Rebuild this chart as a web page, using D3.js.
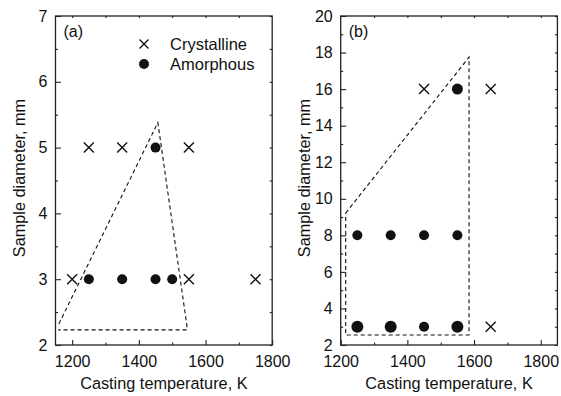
<!DOCTYPE html>
<html>
<head>
<meta charset="utf-8">
<script src="https://cdn.jsdelivr.net/npm/d3@7"></script>
<style>
  body { margin: 0; background: #fff; }
  svg text { font-family: "Liberation Sans", Arial, sans-serif; fill: #111; }
</style>
</head>
<body>
<script>
// panel (a) data
const crystA = [[1250, 5], [1350, 5], [1550, 5], [1200, 3], [1550, 3], [1750, 3]];
const amorphA = [[1450, 5], [1250, 3], [1350, 3], [1450, 3], [1500, 3]];
const regionA = [[1160, 2.32], [1457, 5.38], [1544, 2.3], [1544, 2.23], [1158, 2.23]];

// panel (b) data
const crystB = [[1450, 16], [1650, 16], [1650, 3]];
const amorphB = [[1550, 16], [1250, 8], [1350, 8], [1450, 8], [1550, 8],
                 [1250, 3], [1350, 3], [1450, 3], [1550, 3]];
const amorphBSize = [5.5, 5, 5, 5, 5, 6, 6, 5, 6];
const regionB = [[1215, 9.22], [1585, 17.75], [1585, 2.55], [1215, 2.55], [1215, 9.22]];

const xTicks = [1200, 1400, 1600, 1800];
const xMinor = [1300, 1500, 1700];
const yTicksA = [2, 3, 4, 5, 6, 7];
const yTicksB = [2, 4, 6, 8, 10, 12, 14, 16, 18, 20];

const svg = d3.select("body").append("svg")
    .attr("width", 561)
    .attr("height", 396);

const fmt = d3.format("d");

function panel(opt) {
    const x = d3.scaleLinear().domain(opt.xDomain).range([opt.left, opt.left + 216.7]);
    const y = d3.scaleLinear().domain(opt.yDomain).range([345, 16]);
    const g = svg.append("g");
    const inX = v => v > opt.xDomain[0] && v < opt.xDomain[1];

    // frame
    g.append("rect")
        .attr("x", x.range()[0]).attr("y", 16)
        .attr("width", 216.7).attr("height", 329)
        .attr("fill", "none").attr("stroke", "#222").attr("stroke-width", 1.3);

    // bottom ticks (inside) + labels
    g.append("g")
        .attr("transform", "translate(0,345)")
        .call(d3.axisBottom(x).tickValues(xTicks).tickFormat(fmt).tickSizeInner(-5).tickSizeOuter(0).tickPadding(10.5))
        .call(a => a.select(".domain").remove())
        .call(a => a.selectAll("text").attr("font-size", 16).style("font-family", "Liberation Sans, Arial, sans-serif"));
    g.append("g")
        .attr("transform", "translate(0,345)")
        .call(d3.axisBottom(x).tickValues(xMinor).tickSize(-2.5).tickFormat(""))
        .call(a => a.select(".domain").remove());

    // top minor ticks
    g.append("g")
        .attr("transform", "translate(0,16)")
        .call(d3.axisTop(x).tickValues(xTicks.concat(xMinor).filter(inX)).tickSize(-2).tickFormat(""))
        .call(a => a.select(".domain").remove());

    // left ticks + labels
    g.append("g")
        .attr("transform", `translate(${x.range()[0]},0)`)
        .call(d3.axisLeft(y).tickValues(opt.yTicks).tickFormat(fmt).tickSizeInner(-5.5).tickSizeOuter(0).tickPadding(8))
        .call(a => a.select(".domain").remove())
        .call(a => a.selectAll("text").attr("font-size", 16).style("font-family", "Liberation Sans, Arial, sans-serif"));
    g.append("g")
        .attr("transform", `translate(${x.range()[0]},0)`)
        .call(d3.axisLeft(y).tickValues(opt.yMinor).tickSize(-2.5).tickFormat(""))
        .call(a => a.select(".domain").remove());

    // right ticks
    g.append("g")
        .attr("transform", `translate(${x.range()[1]},0)`)
        .call(d3.axisRight(y).tickValues(opt.yMinor.concat(opt.yTicks)).tickSize(-2.5).tickFormat(""))
        .call(a => a.select(".domain").remove());

    g.selectAll(".tick line").attr("stroke", "#222").attr("stroke-width", 1.1);

    // dashed region
    g.append("path")
        .datum(opt.region)
        .attr("fill", "none")
        .attr("stroke", "#111")
        .attr("stroke-width", 1.1)
        .attr("stroke-dasharray", "4,3")
        .attr("d", d3.line().x(d => x(d[0])).y(d => y(d[1])));

    // crystalline markers
    g.selectAll(".cr")
        .data(opt.cryst)
        .join("path")
        .attr("class", "cr")
        .attr("transform", d => `translate(${x(d[0])},${y(d[1])})`)
        .attr("d", "M-5,-5L5,5M-5,5L5,-5")
        .attr("stroke", "#111").attr("stroke-width", 1.4);

    // amorphous markers
    g.selectAll(".am")
        .data(opt.amorph)
        .join("circle")
        .attr("class", "am")
        .attr("cx", d => x(d[0]))
        .attr("cy", d => y(d[1]))
        .attr("r", (d, i) => opt.sizes ? opt.sizes[i] : 5)
        .attr("fill", "#111");

    g.append("text")
        .attr("x", x.range()[0] + 8).attr("y", 37)
        .attr("font-size", 16)
        .text(opt.label);

    // axis titles
    g.append("text")
        .attr("x", (x.range()[0] + x.range()[1]) / 2).attr("y", 389)
        .attr("text-anchor", "middle").attr("font-size", 16.3)
        .text("Casting temperature, K");
    g.append("text")
        .attr("transform", `translate(${opt.left - 31},178) rotate(-90)`)
        .attr("text-anchor", "middle").attr("font-size", 16.3)
        .text("Sample diameter, mm");
    return g;
}

const gA = panel({
    left: 55.5, xDomain: [1150, 1800], yDomain: [2, 7],
    yTicks: yTicksA, yMinor: [2.5, 3.5, 4.5, 5.5, 6.5],
    cryst: crystA, amorph: amorphA, region: regionA, label: "(a)"
});

panel({
    left: 340.7, xDomain: [1200, 1850], yDomain: [2, 20],
    yTicks: yTicksB, yMinor: [3, 5, 7, 9, 11, 13, 15, 17, 19],
    cryst: crystB, amorph: amorphB, sizes: amorphBSize, region: regionB, label: "(b)"
});

// legend in panel (a)
const legend = [["Crystalline", "x"], ["Amorphous", "o"]];
legend.forEach((d, i) => {
    const yy = 44 + i * 20;
    if (d[1] === "x") {
        gA.append("path")
            .attr("transform", `translate(144,${yy})`)
            .attr("d", "M-4.5,-4.5L4.5,4.5M-4.5,4.5L4.5,-4.5")
            .attr("stroke", "#111").attr("stroke-width", 1.4);
    } else {
        gA.append("circle").attr("cx", 144).attr("cy", yy).attr("r", 5).attr("fill", "#111");
    }
    gA.append("text")
        .attr("x", 170).attr("y", yy + 5.5)
        .attr("font-size", 16.5)
        .text(d[0]);
});
</script>
</body>
</html>
